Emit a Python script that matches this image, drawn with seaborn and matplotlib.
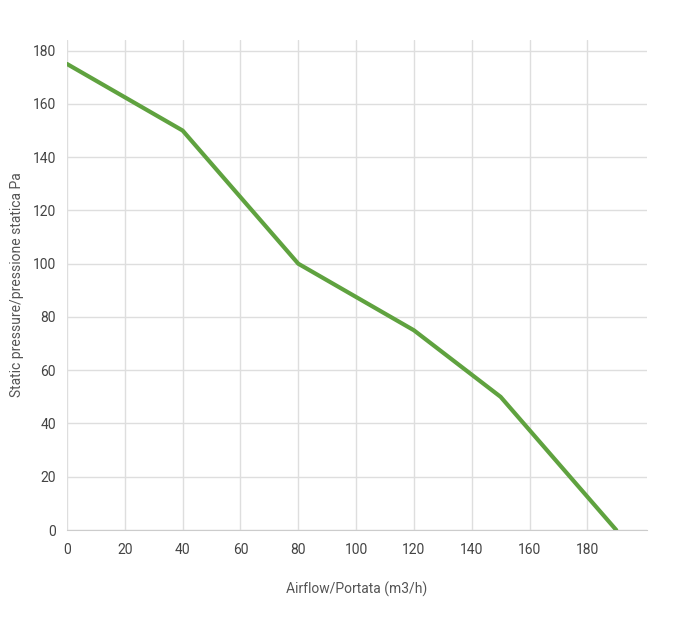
import matplotlib
matplotlib.use("Agg")
import matplotlib.pyplot as plt
import seaborn as sns
import pandas as pd

airflow = [0, 40, 80, 120, 150, 190]
pressure = [175, 150, 100, 75, 50, 0]
x_ticks = [0, 20, 40, 60, 80, 100, 120, 140, 160, 180]
y_ticks = [0, 20, 40, 60, 80, 100, 120, 140, 160, 180]

sns.set_style("white")
plt.rcParams['font.family'] = ['Roboto', 'DejaVu Sans']

df = pd.DataFrame({"x": airflow, "y": pressure})
fig = plt.figure(figsize=(7, 6.25), dpi=100)
ax = fig.add_axes([0.0957, 0.152, 0.828, 0.784])
sns.lineplot(data=df, x="x", y="y", ax=ax, color="#5fa23f", linewidth=3, zorder=3)
ax.set_xlim(0, 200.5)
ax.set_ylim(0, 184)
ax.set_xticks(x_ticks)
ax.set_yticks(y_ticks)
ax.grid(True, color="#dedede", linewidth=1)
for s in ["top", "right", "left"]:
    ax.spines[s].set_visible(False)
ax.spines["bottom"].set_color("#cccccc")
ax.tick_params(axis="both", length=0, labelsize=10, labelcolor="#444444", pad=8)
ax.tick_params(axis="x", length=5, color="#cccccc", pad=4)
ax.set_xlabel("Airflow/Portata (m3/h)", fontsize=10, color="#555555", labelpad=18)
ax.set_ylabel("Static pressure/pressione statica Pa", fontsize=10, color="#555555", labelpad=6)
fig.savefig("out.png", dpi=100, facecolor="white")
